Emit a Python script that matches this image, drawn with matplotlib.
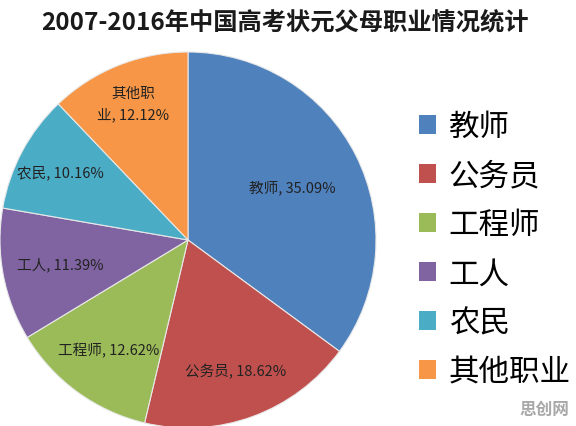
import matplotlib
matplotlib.use('Agg')
import matplotlib.pyplot as plt
import numpy as np
from matplotlib.patches import Patch

plt.rcParams['font.family'] = ['Noto Sans CJK SC', 'DejaVu Sans']

# data
title = '2007-2016年中国高考状元父母职业情况统计'
jobs = ['教师', '公务员', '工程师', '工人', '农民', '其他职业']
slice_labels = ['教师, 35.09%', '公务员, 18.62%', '工程师, 12.62%',
                '工人, 11.39%', '农民, 10.16%', '其他职\n业, 12.12%']
shares = [35.09, 18.62, 12.62, 11.39, 10.16, 12.12]
colors = ['#4F81BD', '#C0504D', '#9BBB59', '#8064A2', '#4BACC6', '#F79646']
label_radius = [0.62, 0.74, 0.72, 0.69, 0.77, 0.78]

fig = plt.figure(figsize=(5.76, 4.27), dpi=100)
# pie centre ~ (188, 241) px from top-left, radius ~188 px
ax = fig.add_axes([0, (186 - 188) / 427, 376 / 576, 376 / 427])

wedges, texts = ax.pie(shares, colors=colors, startangle=90, counterclock=False,
                       labels=slice_labels, labeldistance=0.7,
                       wedgeprops=dict(edgecolor='#e8e8e8', linewidth=0.8),
                       textprops=dict(fontsize=10.5, color='#222222'))

# move each label to its own spot inside the slice
for w, t, r in zip(wedges, texts, label_radius):
    ang = np.deg2rad((w.theta1 + w.theta2) / 2)
    t.set_position((r * np.cos(ang), r * np.sin(ang)))
    t.set_ha('center')
    t.set_va('center')
    t.set_linespacing(1.6)

ax.set_xlim(-1, 1)
ax.set_ylim(-1, 1)
ax.set_aspect('equal')

fig.text(0.495, 0.948, title, ha='center', va='center',
         fontsize=17.5, fontweight='bold', color='#1a1a1a')

handles = [Patch(facecolor=c, edgecolor='none') for c in colors]
fig.legend(handles, jobs, loc='upper left', bbox_to_anchor=(0.727, 0.737),
           frameon=False, fontsize=22, handlelength=0.56, handleheight=0.56,
           handletextpad=0.42, labelspacing=0.59, borderaxespad=0,
           borderpad=0)

# watermark
fig.text(0.945, 0.04, '思创网', ha='center', va='center', fontsize=12,
         fontweight='bold', color='#a8a8a8')

fig.savefig('out.png', dpi=100)
